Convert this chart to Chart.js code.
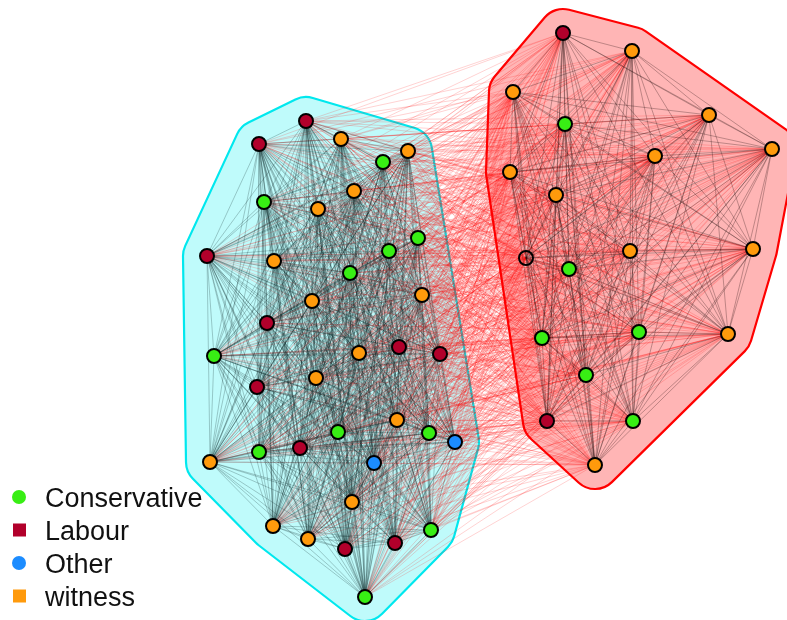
<!DOCTYPE html>
<html>
<head>
<meta charset="utf-8">
<script src="https://cdn.jsdelivr.net/npm/chart.js@4/dist/chart.umd.min.js"></script>
<style>
  html, body { margin: 0; padding: 0; background: #fff; overflow: hidden; }
  #wrap { width: 787px; height: 620px; }
</style>
</head>
<body>
<div id="wrap"><canvas id="c" width="787" height="620"></canvas></div>
<script>
// Network layout: node positions (layout units), party and community
const nodeX = [
  306, 259, 341, 408, 383, 354, 264, 318, 418, 389, 207, 274, 350, 312, 422, 267, 214, 359, 399,
  440, 316, 257, 397, 338, 429, 455, 259, 300, 374, 210, 352, 273, 308, 345, 395, 431, 365,
  563, 632, 513, 565, 709, 772, 655, 510, 556, 526, 569, 630, 753, 542, 639, 728, 586, 547, 633, 595
];
const nodeY = [
  121, 144, 139, 151, 162, 191, 202, 209, 238, 251, 256, 261, 273, 301, 295, 323, 356, 353, 347,
  354, 378, 387, 420, 432, 433, 442, 452, 448, 463, 462, 502, 526, 539, 549, 543, 530, 597,
  33, 51, 92, 124, 115, 149, 156, 172, 195, 258, 269, 251, 249, 338, 332, 334, 375, 421, 421, 465
];
const nodeParty = [
  'Labour', 'Labour', 'witness', 'witness', 'Conservative', 'witness', 'Conservative', 'witness',
  'Conservative', 'Conservative', 'Labour', 'witness', 'Conservative', 'witness', 'witness', 'Labour',
  'Conservative', 'witness', 'Labour', 'Labour', 'witness', 'Labour', 'witness', 'Conservative',
  'Conservative', 'Other', 'Conservative', 'Labour', 'Other', 'witness', 'witness', 'witness',
  'witness', 'Labour', 'Labour', 'Conservative', 'Conservative',
  'Labour', 'witness', 'witness', 'Conservative', 'witness', 'witness', 'witness', 'witness',
  'witness', null, 'Conservative', 'witness', 'witness', 'Conservative', 'Conservative', 'witness',
  'Conservative', 'Labour', 'Conservative', 'witness'
];
const nodeGroup = [
  1, 1, 1, 1, 1, 1, 1, 1, 1, 1, 1, 1, 1, 1, 1, 1, 1, 1, 1,
  1, 1, 1, 1, 1, 1, 1, 1, 1, 1, 1, 1, 1, 1, 1, 1, 1, 1,
  2, 2, 2, 2, 2, 2, 2, 2, 2, 2, 2, 2, 2, 2, 2, 2, 2, 2, 2, 2
];

const partyNames = ['Conservative', 'Labour', 'Other', 'witness'];
const partyColors = ['#38EE14', '#B2002B', '#1C8CFF', '#FF9A0C'];
const legendShapes = ['circle', 'rect', 'circle', 'rect'];
const groupFill = ['rgba(0,238,238,0.25)', 'rgba(255,0,0,0.29)'];
const groupStroke = ['#00E8EE', '#FF0000'];

// Edges: members sharing a community are linked (grey); cross-community links in red
const edgesWithin = [];
const edgesBetween = [];
for (let i = 0; i < nodeX.length; i++) {
  for (let j = i + 1; j < nodeX.length; j++) {
    if (nodeGroup[i] === nodeGroup[j]) edgesWithin.push([i, j]);
    else edgesBetween.push([i, j]);
  }
}

function convexHull(pts) {
  const p = pts.slice().sort((a, b) => a[0] - b[0] || a[1] - b[1]);
  const cross = (o, a, b) => (a[0] - o[0]) * (b[1] - o[1]) - (a[1] - o[1]) * (b[0] - o[0]);
  const lower = [], upper = [];
  for (const q of p) {
    while (lower.length >= 2 && cross(lower[lower.length - 2], lower[lower.length - 1], q) <= 0) lower.pop();
    lower.push(q);
  }
  for (let k = p.length - 1; k >= 0; k--) {
    const q = p[k];
    while (upper.length >= 2 && cross(upper[upper.length - 2], upper[upper.length - 1], q) <= 0) upper.pop();
    upper.push(q);
  }
  upper.pop(); lower.pop();
  return lower.concat(upper);
}

// rounded, expanded hull around a set of pixel points
function hullPath(ctx, pts, r) {
  let h = convexHull(pts);
  let area = 0;
  for (let i = 0; i < h.length; i++) {
    const a = h[i], b = h[(i + 1) % h.length];
    area += a[0] * b[1] - b[0] * a[1];
  }
  if (area < 0) h = h.reverse();
  const n = h.length;
  const normals = [];
  for (let i = 0; i < n; i++) {
    const a = h[i], b = h[(i + 1) % n];
    const dx = b[0] - a[0], dy = b[1] - a[1];
    const L = Math.hypot(dx, dy);
    normals.push([dy / L, -dx / L]);
  }
  ctx.beginPath();
  for (let i = 0; i < n; i++) {
    const np = normals[(i - 1 + n) % n], nn = normals[i];
    let a1 = Math.atan2(np[1], np[0]);
    let a2 = Math.atan2(nn[1], nn[0]);
    if (a2 < a1) a2 += Math.PI * 2;
    ctx.arc(h[i][0], h[i][1], r, a1, a2, false);
  }
  ctx.closePath();
}

const networkPlugin = {
  id: 'network',
  beforeDatasetsDraw(chart) {
    const { ctx, scales: { x, y } } = chart;
    const px = nodeX.map(v => x.getPixelForValue(v));
    const py = nodeY.map(v => y.getPixelForValue(v));
    ctx.save();
    // community hulls
    [1, 2].forEach((g, gi) => {
      const pts = [];
      for (let i = 0; i < px.length; i++) if (nodeGroup[i] === g) pts.push([px[i], py[i]]);
      hullPath(ctx, pts, 24);
      ctx.fillStyle = groupFill[gi];
      ctx.fill();
      ctx.lineWidth = 2.2;
      ctx.lineJoin = 'round';
      ctx.strokeStyle = groupStroke[gi];
      ctx.stroke();
    });
    // edges
    ctx.lineWidth = 0.9;
    ctx.strokeStyle = 'rgba(255,0,0,0.2)';
    for (const [i, j] of edgesBetween) {
      ctx.beginPath(); ctx.moveTo(px[i], py[i]); ctx.lineTo(px[j], py[j]); ctx.stroke();
    }
    for (const [i, j] of edgesWithin) {
      ctx.strokeStyle = nodeGroup[i] === 1 ? 'rgba(10,35,35,0.27)' : 'rgba(30,10,10,0.32)';
      ctx.beginPath(); ctx.moveTo(px[i], py[i]); ctx.lineTo(px[j], py[j]); ctx.stroke();
    }
    ctx.restore();
  },
  afterDraw(chart) {
    const ctx = chart.ctx;
    ctx.save();
    ctx.font = '27px "Liberation Sans", Arial, sans-serif';
    ctx.textBaseline = 'alphabetic';
    ctx.textAlign = 'left';
    partyNames.forEach((name, k) => {
      const cy = 497 + k * 33;
      ctx.fillStyle = partyColors[k];
      if (legendShapes[k] === 'circle') {
        ctx.beginPath(); ctx.arc(19, cy, 7, 0, Math.PI * 2); ctx.fill();
      } else {
        ctx.fillRect(13, cy - 6.5, 13, 13);
      }
      ctx.fillStyle = '#111';
      ctx.fillText(name, 45, cy + 10);
    });
    ctx.restore();
  }
};

function pointsFor(party) {
  const out = [];
  for (let i = 0; i < nodeX.length; i++) if (nodeParty[i] === party) out.push({ x: nodeX[i], y: nodeY[i] });
  return out;
}

const datasets = partyNames.map((p, k) => ({
  label: p,
  data: pointsFor(p),
  backgroundColor: partyColors[k],
  borderColor: '#000',
  borderWidth: 2,
  pointRadius: 7,
  pointHoverRadius: 7
}));
datasets.push({
  label: 'NA',
  data: pointsFor(null),
  backgroundColor: 'rgba(0,0,0,0)',
  borderColor: '#000',
  borderWidth: 2,
  pointRadius: 7
});

new Chart(document.getElementById('c'), {
  type: 'scatter',
  data: { datasets },
  options: {
    responsive: false,
    animation: false,
    layout: { padding: 0, autoPadding: false },
    plugins: { legend: { display: false }, tooltip: { enabled: false } },
    scales: {
      x: { type: 'linear', min: 0, max: 787, display: false },
      y: { type: 'linear', min: 0, max: 620, reverse: true, display: false }
    }
  },
  plugins: [networkPlugin]
});
</script>
</body>
</html>
